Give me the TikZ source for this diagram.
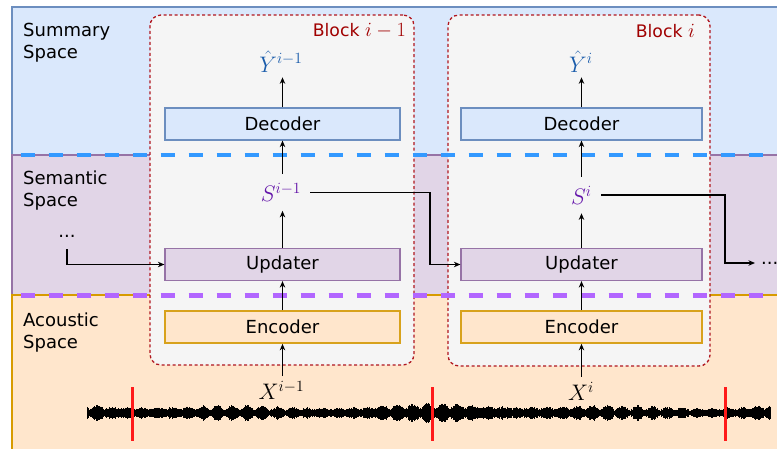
\documentclass[tikz,border=0pt]{standalone}
\usepackage[no-math]{fontspec}
\setmainfont{DejaVu Sans}
\usetikzlibrary{arrows.meta}

\definecolor{sumfill}{HTML}{DAE8FC}
\definecolor{sumline}{HTML}{6C8EBF}
\definecolor{semfill}{HTML}{E1D5E7}
\definecolor{semline}{HTML}{9673A6}
\definecolor{acofill}{HTML}{FFE6CC}
\definecolor{acoline}{HTML}{D79B00}
\definecolor{encline}{HTML}{D8A21C}
\definecolor{blockfill}{HTML}{F5F5F5}
\definecolor{blockred}{HTML}{B0161E}
\definecolor{labelred}{HTML}{A00000}
\definecolor{bluedash}{HTML}{3399FF}
\definecolor{purpdash}{HTML}{B266FF}
\definecolor{yhatblue}{HTML}{1A5CAB}
\definecolor{spurple}{HTML}{6415AA}
\definecolor{cutred}{HTML}{FF1A1A}

% math is set at 17.28pt and enlarged
\newcommand{\bigmath}[1]{\scalebox{1.3}{$#1$}}
\newcommand{\blockmath}[1]{\scalebox{1.17}{$#1$}}

\tikzset{
  spacelabel/.style={anchor=north west, align=left, inner sep=0pt,
    font=\fontsize{18}{22.5}\selectfont},
  modbox/.style={draw, line width=1.2pt, minimum height=32pt, inner sep=0pt,
    font=\fontsize{18}{22}\selectfont},
  decbox/.style={modbox, fill=sumfill, draw=sumline},
  updbox/.style={modbox, fill=semfill, draw=semline},
  encbox/.style={modbox, fill=acofill, draw=encline, line width=1.7pt},
  blockbox/.style={draw=blockred, fill=blockfill, line width=1.3pt,
    dash pattern=on 3pt off 2.5pt, rounded corners=11pt, inner sep=0pt},
  blocklabel/.style={anchor=east, text=labelred, inner sep=0pt,
    font=\fontsize{17.28}{22}\selectfont},
  mathlbl/.style={inner sep=5pt, font=\fontsize{17.28}{22}\selectfont},
  statelbl/.style={mathlbl, inner sep=9pt, text=spurple},
  flow/.style={-{Stealth[length=6.5pt,width=5.5pt]}, line width=1.2pt},
  spacedash/.style={line width=4.5pt, dash pattern=on 14pt off 14pt},
  dotlbl/.style={inner sep=2pt, font=\fontsize{18}{22}\selectfont},
  wave/.style={line width=1pt, black},
  cut/.style={line width=3pt, cutred},
}

\begin{document}
\begin{tikzpicture}[x=1pt, y=-1pt]
  \useasboundingbox (0,0) rectangle (777,449);
  \fill[white] (0,0) rectangle (777,449);

  % three representation spaces
  \draw[fill=sumfill, draw=sumline, line width=1.2pt] (12,7) rectangle (800,155);
  \draw[fill=semfill, draw=semline, line width=1.2pt] (12,155) rectangle (800,295);
  \draw[fill=acofill, draw=acoline, line width=1.2pt] (12,295) rectangle (800,470);

  \node[spacelabel] (lsum) at (23,22.5) {Summary\\Space};
  \node[spacelabel] (lsem) at (23,170.5) {Semantic\\Space};
  \node[spacelabel] (laco) at (23,312.5) {Acoustic\\Space};

  % the two processing blocks
  \node[blockbox, minimum width=264pt, minimum height=350pt] (blk1) at (282,190) {};
  \node[blockbox, minimum width=262pt, minimum height=351pt] (blk2) at (579,190.5) {};
  \node[blocklabel] (bl1) at (406,31) {Block \blockmath{i-1}};
  \node[blocklabel] (bl2) at (695,31) {Block \blockmath{i}};

  % borders between the spaces
  \draw[spacedash, bluedash] (20.7,155) -- (800,155);
  \draw[spacedash, purpdash] (20.7,295.5) -- (800,295.5);

  % modules of block i-1
  \node[decbox, minimum width=235pt] (dec1) at (282.5,124) {Decoder};
  \node[updbox, minimum width=235pt] (upd1) at (282.5,264.5) {Updater};
  \node[encbox, minimum width=235pt] (enc1) at (282.5,327) {Encoder};

  % modules of block i
  \node[decbox, minimum width=241pt] (dec2) at (581.5,124) {Decoder};
  \node[updbox, minimum width=241pt] (upd2) at (581.5,264.5) {Updater};
  \node[encbox, minimum width=241pt] (enc2) at (581.5,327) {Encoder};

  % variables
  \node[mathlbl, text=yhatblue] (yh1) at (281,61.5) {\bigmath{\hat{Y}^{i-1}}};
  \node[mathlbl, text=yhatblue] (yh2) at (581,61.5) {\bigmath{\hat{Y}^{i}}};
  \node[statelbl] (s1) at (281,192.5) {\bigmath{S^{i-1}}};
  \node[statelbl] (s2) at (581.5,195) {\bigmath{S^{i}}};
  \node[mathlbl] (x1) at (281.5,390.5) {\bigmath{X^{i-1}}};
  \node[mathlbl] (x2) at (581,391) {\bigmath{X^{i}}};

  \node[dotlbl] (dl) at (67,236) {...};
  \node[dotlbl, anchor=west, inner sep=6pt] (dr) at (755,263) {...};
  \coordinate (j1) at (430,264.5);
  \coordinate (j2) at (725,263);

  % vertical data flow
  \foreach \b in {1,2} {
    \draw[flow] (dec\b.north) -- (dec\b.north |- yh\b.south);
    \draw[flow] (dec\b.south |- s\b.north) -- (dec\b.south);
    \draw[flow] (upd\b.north) -- (upd\b.north |- s\b.south);
    \draw[flow] (enc\b.north) -- (upd\b.south);
    \draw[flow] (enc\b.south |- x\b.north) -- (enc\b.south);
  }

  % recurrent state connections
  \draw[flow, shorten <=10pt] (dl.south) |- (upd1.west);
  \draw[flow] (s1.east) -| (j1) -- (upd2.west);
  \draw[flow] (s2.east) -| (j2) -- (dr.west);

  % speech waveform
  \pgfmathsetseed{11}
  \foreach \x in {87,87.6,...,771} {
    \pgfmathsetmacro\env{3.6+4.6*abs(sin(\x*12))^1.5*(0.65+0.35*sin(\x*1.9))+0.8*sin(\x*0.9+40)}
    \pgfmathsetmacro\amp{\env*(0.75+0.4*rnd)}
    \draw[wave] (\x,{413-\amp}) -- (\x,{413+\amp});
  }
  \draw[cut] (132,387) -- (132,441);
  \draw[cut] (432,387) -- (432,441);
  \draw[cut] (725,387) -- (725,441);
\end{tikzpicture}
\end{document}
